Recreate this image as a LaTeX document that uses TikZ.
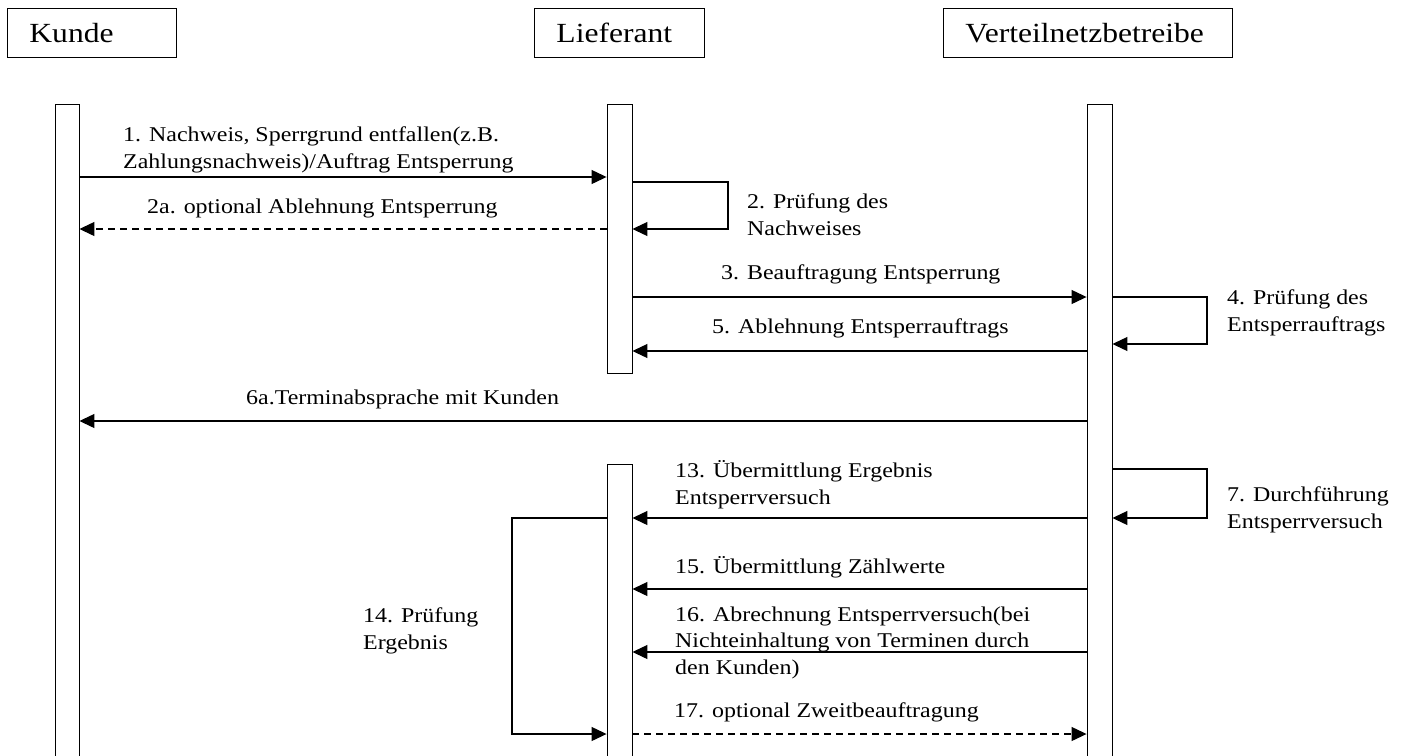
\documentclass[tikz,border=0pt]{standalone}
\usepackage{fontspec}
\setmainfont[FakeStretch=1.14]{Liberation Serif}
\usetikzlibrary{arrows.meta}

\begin{document}
\begin{tikzpicture}[x=1pt, y=-1pt,
  head/.style={draw, line width=0.9pt, inner xsep=22pt, inner ysep=0pt, minimum height=49pt, align=left, anchor=north west, font=\fontsize{27.7}{33}\selectfont},
  bar/.style={draw, line width=0.9pt, fill=white, minimum width=25pt, inner sep=0pt, anchor=north},
  msg/.style={line width=1.2pt, -{Triangle[length=15pt, width=14pt]}},
  reply/.style={msg, dash pattern=on 7pt off 5pt},
  text only/.style={inner sep=0pt, align=left, anchor=base west, font=\fontsize{21}{26.5}\selectfont}]
\clip (0,0) rectangle (1405,755);
\fill[white] (0,0) rectangle (1405,755);
% actors
\node[head, text width=125pt] (kunde) at (7,8) {Kunde};
\node[head, text width=126pt] (lief) at (534,8) {Lieferant};
\node[head, text width=245pt] (vnb) at (943,8) {Verteilnetzbetreibe};
% lifelines
\node[bar, minimum width=24pt, minimum height=660pt] (kunde-bar) at (67,104) {};
\node[bar, minimum height=269pt] (lief-a) at (619.5,104) {};
\node[bar, minimum height=300pt] (lief-b) at (619.5,464) {};
\node[bar, minimum height=660pt] (vnb-bar) at (1099.5,104) {};
% messages
\foreach \y/\from/\to/\kind in {
    177/kunde-bar.east/lief-a.west/msg,
    229/lief-a.west/kunde-bar.east/reply,
    297/lief-a.east/vnb-bar.west/msg,
    351/vnb-bar.west/lief-a.east/msg,
    421/vnb-bar.west/kunde-bar.east/msg,
    518/vnb-bar.west/lief-b.east/msg,
    589/vnb-bar.west/lief-b.east/msg,
    652/vnb-bar.west/lief-b.east/msg,
    734/lief-b.east/vnb-bar.west/reply} {
  \draw[\kind] (\from |- 0,\y) -- (\to |- 0,\y);
}
% self checks
\foreach \bar/\side/\top/\bottom/\out in {
    lief-a/east/182/229/728,
    vnb-bar/east/297/344/1207,
    vnb-bar/east/469/518/1207,
    lief-b/west/518/734/512} {
  \coordinate (loop-\top-a) at (\out,\top);
  \coordinate (loop-\top-b) at (\out,\bottom);
  \draw[msg] (\bar.\side |- loop-\top-a) -- (loop-\top-a) -- (loop-\top-b) -- (\bar.\side |- loop-\top-b);
}
% labels (base = last line)
\node[text only] (l1) at (123,168) {1. Nachweis, Sperrgrund entfallen(z.B.\\Zahlungsnachweis)/Auftrag Entsperrung};
\node[text only] (l2a) at (147,213) {2a. optional Ablehnung Entsperrung};
\node[text only] (l2) at (747,235) {2. Prüfung des\\Nachweises};
\node[text only] (l3) at (721,279) {3. Beauftragung Entsperrung};
\node[text only] (l4) at (1227,331) {4. Prüfung des\\Entsperrauftrags};
\node[text only] (l5) at (712,333) {5. Ablehnung Entsperrauftrags};
\node[text only] (l6a) at (246,404) {6a.Terminabsprache mit Kunden};
\node[text only] (l7) at (1227,528) {7. Durchführung\\Entsperrversuch};
\node[text only] (l13) at (675,504) {13. Übermittlung Ergebnis\\Entsperrversuch};
\node[text only] (l14) at (363,649) {14. Prüfung\\Ergebnis};
\node[text only] (l15) at (675,573) {15. Übermittlung Zählwerte};
\node[text only] (l16) at (675,674) {16. Abrechnung Entsperrversuch(bei\\Nichteinhaltung von Terminen durch\\den Kunden)};
\node[text only] (l17) at (674,717) {17. optional Zweitbeauftragung};
\end{tikzpicture}
\end{document}
